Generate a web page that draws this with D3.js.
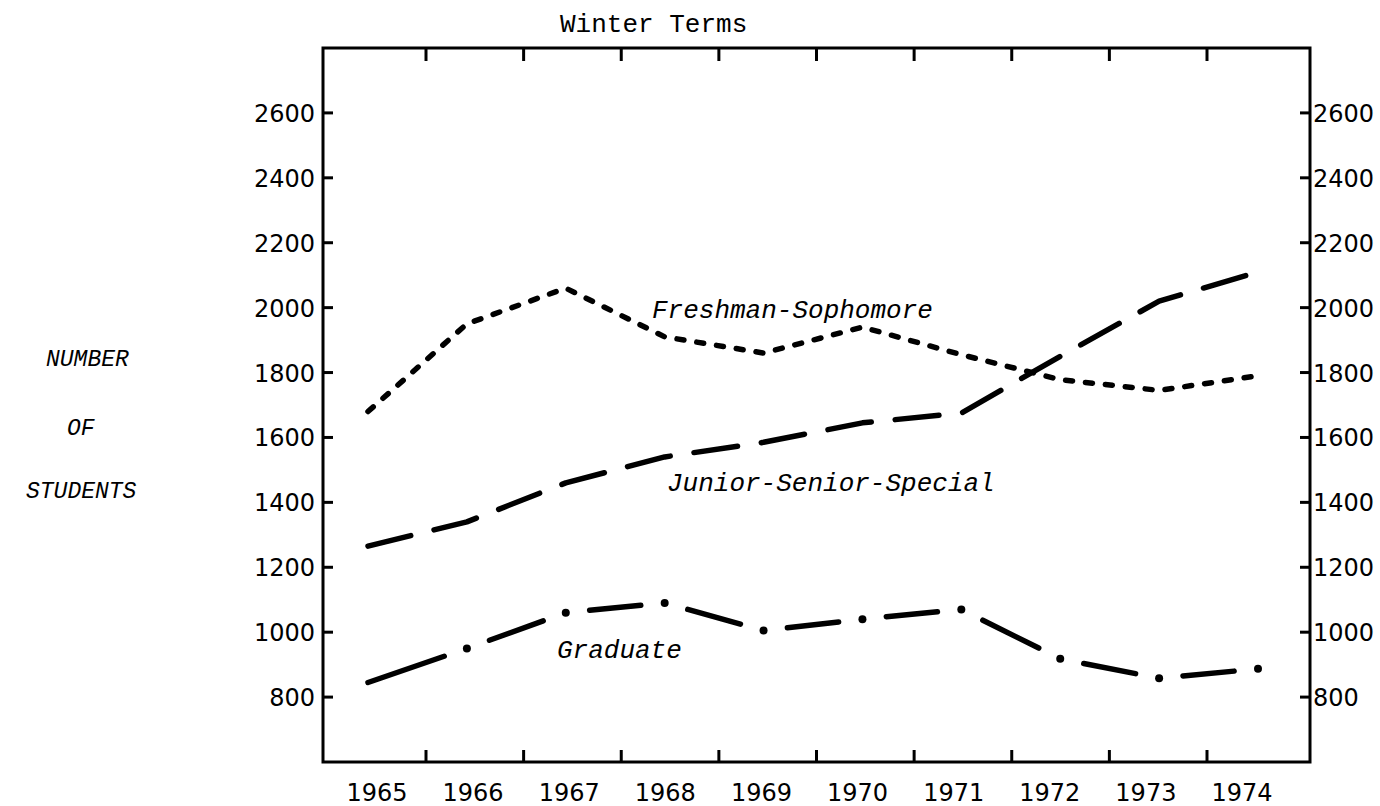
<!DOCTYPE html>
<meta charset="utf-8">
<style>

body { margin: 0; background: #fff; }

.frame {
  fill: none;
  stroke: #000;
  stroke-width: 3px;
}

.tick-mark {
  stroke: #000;
  stroke-width: 3px;
}

.num {
  font-family: "DejaVu Sans", sans-serif;
  font-size: 24px;
  fill: #000;
}

.lbl {
  font-family: "Liberation Mono", monospace;
  font-style: italic;
  font-size: 26px;
  fill: #000;
}

.series {
  fill: none;
  stroke: #000;
  stroke-width: 5.5px;
  stroke-linecap: round;
  stroke-linejoin: round;
}

</style>
<svg width="1380" height="806">
  <rect fill="#fff" width="100%" height="100%"></rect>
</svg>
<script src="https://cdn.jsdelivr.net/npm/d3@7"></script>
<script>

var years = [1965, 1966, 1967, 1968, 1969, 1970, 1971, 1972, 1973, 1974];
var yTicks = [800, 1000, 1200, 1400, 1600, 1800, 2000, 2200, 2400, 2600];
var freshSoph = [1680, 1950, 2060, 1910, 1860, 1940, 1855, 1778, 1745, 1790];
var juniorSenior = [1265, 1340, 1460, 1540, 1585, 1645, 1675, 1850, 2020, 2110];
var graduate = [845, 950, 1060, 1090, 1005, 1040, 1070, 918, 858, 887];

var frameL = 323, frameR = 1310, frameT = 48, frameB = 762;

var svg = d3.select("svg");

var x = d3.scaleLinear().domain([1965, 1974]).range([368, 1258]),
    xLabel = d3.scalePoint().domain(years).range([377, 1242]),
    xTick = d3.scaleLinear().domain([1965.5, 1973.5]).range([426, 1207]),
    y = d3.scaleLinear().domain([600, 2800]).range([frameB, frameT]);

var midYears = years.slice(0, -1).map(function(d) { return d + 0.5; });

// frame
svg.append("rect")
    .attr("class", "frame")
    .attr("x", frameL)
    .attr("y", frameT)
    .attr("width", frameR - frameL)
    .attr("height", frameB - frameT);

// top and bottom tick marks (between years)
svg.selectAll(".xt-top").data(midYears).enter().append("line")
    .attr("class", "tick-mark")
    .attr("x1", xTick).attr("x2", xTick)
    .attr("y1", frameT).attr("y2", frameT + 13);

svg.selectAll(".xt-bot").data(midYears).enter().append("line")
    .attr("class", "tick-mark")
    .attr("x1", xTick).attr("x2", xTick)
    .attr("y1", frameB).attr("y2", frameB - 12);

// left and right value ticks
svg.selectAll(".yt-left").data(yTicks).enter().append("line")
    .attr("class", "tick-mark")
    .attr("x1", frameL).attr("x2", frameL + 10)
    .attr("y1", y).attr("y2", y);

svg.selectAll(".yt-right").data(yTicks).enter().append("line")
    .attr("class", "tick-mark")
    .attr("x1", frameR - 10).attr("x2", frameR)
    .attr("y1", y).attr("y2", y);

svg.selectAll(".yl-left").data(yTicks).enter().append("text")
    .attr("class", "num")
    .attr("text-anchor", "end")
    .attr("x", frameL - 8)
    .attr("y", function(d) { return y(d) + 9; })
    .text(function(d) { return d; });

svg.selectAll(".yl-right").data(yTicks).enter().append("text")
    .attr("class", "num")
    .attr("x", frameR + 3)
    .attr("y", function(d) { return y(d) + 9; })
    .text(function(d) { return d; });

svg.selectAll(".xl").data(years).enter().append("text")
    .attr("class", "num")
    .attr("text-anchor", "middle")
    .attr("x", xLabel)
    .attr("y", 801)
    .text(function(d) { return d; });

// titles
svg.append("text")
    .attr("x", 560).attr("y", 32)
    .style("font-family", "'Liberation Mono', monospace")
    .style("font-size", "26px")
    .text("Winter Terms");

svg.append("text").attr("class", "lbl").attr("x", 46).attr("y", 366).style("font-size", "23px").text("NUMBER");
svg.append("text").attr("class", "lbl").attr("x", 67).attr("y", 435).style("font-size", "23px").text("OF");
svg.append("text").attr("class", "lbl").attr("x", 26).attr("y", 498).style("font-size", "23px").text("STUDENTS");

svg.append("text").attr("class", "lbl").attr("x", 652).attr("y", 318).text("Freshman-Sophomore");
svg.append("text").attr("class", "lbl").attr("x", 667).attr("y", 491).text("Junior-Senior-Special");
svg.append("text").attr("class", "lbl").attr("x", 557).attr("y", 658).text("Graduate");

// lines
var line = d3.line()
    .x(function(d, i) { return x(years[i]); })
    .y(function(d) { return y(d); });

svg.append("path")
    .datum(freshSoph)
    .attr("class", "series")
    .attr("stroke-dasharray", "7,13")
    .attr("d", line);

svg.append("path")
    .datum(juniorSenior)
    .attr("class", "series")
    .attr("stroke-dasharray", "44,24")
    .attr("d", line);

// graduate: a dash between years, a dot on each year
var gap = 24;
var segs = d3.pairs(graduate.map(function(d, i) { return [x(years[i]), y(d)]; }));

svg.selectAll(".grad-seg").data(segs).enter().append("line")
    .attr("class", "series")
    .each(function(s, i) {
      var dx = s[1][0] - s[0][0], dy = s[1][1] - s[0][1],
          len = Math.sqrt(dx * dx + dy * dy),
          ux = dx / len, uy = dy / len,
          a = i === 0 ? 0 : gap;
      d3.select(this)
          .attr("x1", s[0][0] + ux * a).attr("y1", s[0][1] + uy * a)
          .attr("x2", s[1][0] - ux * gap).attr("y2", s[1][1] - uy * gap);
    });

svg.selectAll(".grad-dot").data(graduate.slice(1)).enter().append("circle")
    .attr("cx", function(d, i) { return x(years[i + 1]); })
    .attr("cy", y)
    .attr("r", 4)
    .attr("fill", "#000");

</script>
